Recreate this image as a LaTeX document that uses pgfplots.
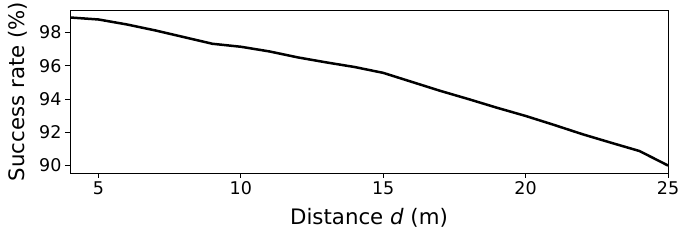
\documentclass[border=0pt]{standalone}
\usepackage{pgfplots}
\pgfplotsset{compat=1.18}
\usepackage{fontspec}
\setmainfont{DejaVu Sans}
\usetikzlibrary{calc}
\begin{document}
\begin{tikzpicture}
\begin{axis}[
  scale only axis,
  width=598pt, height=163pt,
  xmin=4, xmax=25,
  ymin=89.55, ymax=99.35,
  xtick={5,10,15,20,25},
  ytick={90,92,94,96,98},
  tick align=outside,
  tick pos=left,
  major tick length=5pt,
  every tick/.style={black, line width=0.8pt},
  axis line style={line width=0.8pt},
  /pgf/number format/assume math mode=true,
  ticklabel style={font=\fontsize{17.5}{19}\selectfont},
  label style={font=\fontsize{21.3}{24}\selectfont},
  xlabel={Distance \textit{d} (m)},
  ylabel={Success rate (\%)},
  xlabel style={at={(axis description cs:0.5,-0.319)}, anchor=base},
  ylabel style={at={(axis description cs:-0.087,0.5)}, anchor=center},
]
\addplot[black, line width=2.5pt, line join=round] coordinates {
(4,98.90) (5,98.78) (6,98.48) (7,98.12) (8,97.72) (9,97.32) (10,97.14)
(11,96.86) (12,96.50) (13,96.20) (14,95.92) (15,95.57) (16,95.03)
(17,94.49) (18,93.99) (19,93.47) (20,92.98) (21,92.44) (22,91.88)
(23,91.37) (24,90.87) (25,90.00)
};
\end{axis}
\pgfresetboundingbox
\path[use as bounding box] ($(current axis.south west)+(-70pt,-67pt)$) rectangle ($(current axis.north east)+(21pt,10pt)$);
\end{tikzpicture}
\end{document}
